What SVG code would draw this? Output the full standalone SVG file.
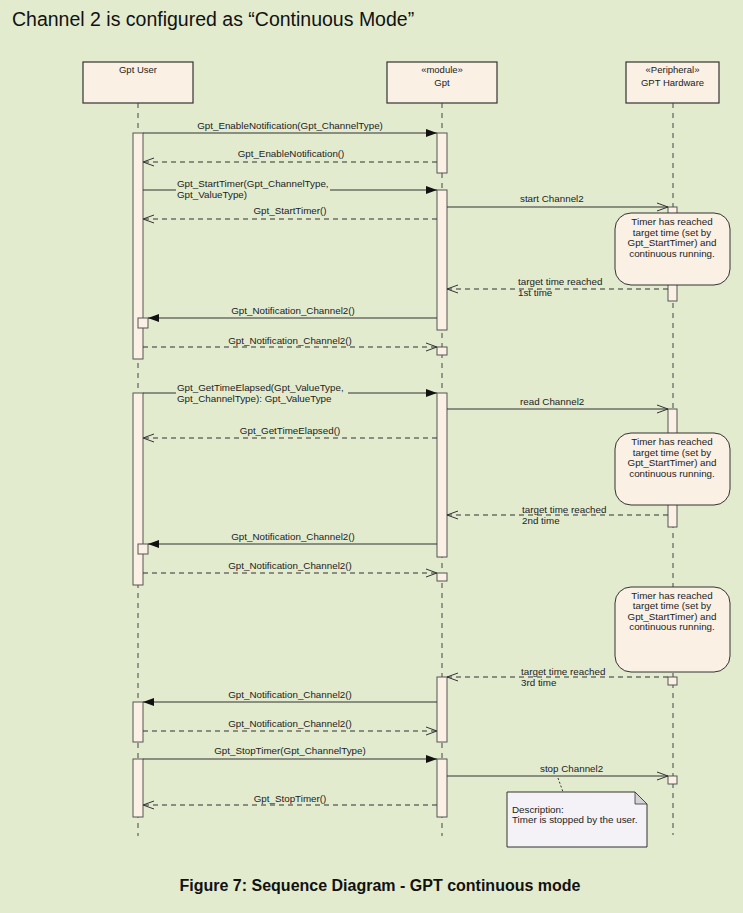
<svg xmlns="http://www.w3.org/2000/svg" width="743" height="913" viewBox="0 0 743 913">
<defs>
<marker id="filled" markerWidth="12" markerHeight="10" refX="11" refY="5" orient="auto" markerUnits="userSpaceOnUse">
<path d="M0,1 L11,5 L0,9 Z" fill="#111"/>
</marker>
<marker id="open" markerWidth="12" markerHeight="10" refX="11" refY="5" orient="auto" markerUnits="userSpaceOnUse">
<path d="M0,1 L11,5 L0,9" fill="none" stroke="#333" stroke-width="1"/>
</marker>
</defs>
<style>
.bg{fill:#e3ebcf}
.hdr{fill:#fbf0e4;stroke:#333;stroke-width:1.2}
.bar{fill:#fbf0e4;stroke:#555;stroke-width:1}
.life{stroke:#444;stroke-width:1;stroke-dasharray:5,5;fill:none}
.call{stroke:#333;stroke-width:1.1;fill:none;marker-end:url(#filled)}
.async{stroke:#333;stroke-width:1.1;fill:none;marker-end:url(#open)}
.ret{stroke:#333;stroke-width:1.1;fill:none;stroke-dasharray:5,4;marker-end:url(#open)}
.seg{stroke:#333;stroke-width:1.1;fill:none}
.note{fill:#fbf0e4;stroke:#333;stroke-width:1}
text{font-family:"Liberation Sans",Arial,sans-serif;fill:#222}
.lbl{font-size:9.8px}
.c{text-anchor:middle}
.h{font-size:9.5px;text-anchor:middle}
</style>
<rect class="bg" x="0" y="0" width="743" height="913"/>
<text x="12" y="26" style="font-size:19.5px;fill:#111">Channel 2 is configured as “Continuous Mode”</text>

<g id="gpt-user">
<rect class="hdr" x="83" y="62" width="110" height="41"/>
<text class="h" x="138" y="73">Gpt User</text>
<line class="life" x1="138" y1="103" x2="138" y2="836"/>
</g>
<g id="gpt">
<rect class="hdr" x="387" y="62" width="110" height="41"/>
<text class="h" x="442" y="73">«module»</text>
<text class="h" x="442" y="86">Gpt</text>
<line class="life" x1="442" y1="103" x2="442" y2="836"/>
</g>
<g id="gpt-hardware">
<rect class="hdr" x="626" y="62" width="93" height="41"/>
<text class="h" x="672.5" y="73">«Peripheral»</text>
<text class="h" x="672.5" y="86">GPT Hardware</text>
<line class="life" x1="673" y1="103" x2="673" y2="835"/>
</g>

<g id="activations">
<rect class="bar" x="133" y="133" width="10" height="226"/>
<rect class="bar" x="138" y="318" width="10" height="10"/>
<rect class="bar" x="133" y="393" width="10" height="192"/>
<rect class="bar" x="138" y="544" width="10" height="10"/>
<rect class="bar" x="133" y="702" width="10" height="40"/>
<rect class="bar" x="133" y="759" width="10" height="58"/>
<rect class="bar" x="437" y="133" width="10" height="40"/>
<rect class="bar" x="437" y="190" width="10" height="140"/>
<rect class="bar" x="437" y="347" width="10" height="8"/>
<rect class="bar" x="437" y="393" width="10" height="164"/>
<rect class="bar" x="437" y="573" width="10" height="8"/>
<rect class="bar" x="437" y="677" width="10" height="65"/>
<rect class="bar" x="437" y="759" width="10" height="58"/>
<rect class="bar" x="668" y="207" width="9" height="94"/>
<rect class="bar" x="668" y="409" width="9" height="118"/>
<rect class="bar" x="668" y="677" width="9" height="8"/>
<rect class="bar" x="668" y="776" width="9" height="8"/>
</g>

<g id="notes">
<g id="note1">
<rect class="note" x="615" y="213" width="115" height="72" rx="16"/>
<text class="lbl c" x="672" y="225">Timer has reached</text>
<text class="lbl c" x="672" y="235.5">target time (set by</text>
<text class="lbl c" x="672" y="246">Gpt_StartTimer) and</text>
<text class="lbl c" x="672" y="256.5">continuous running.</text>
</g>
<g id="note2">
<rect class="note" x="615" y="433" width="115" height="72" rx="16"/>
<text class="lbl c" x="672" y="445">Timer has reached</text>
<text class="lbl c" x="672" y="455.5">target time (set by</text>
<text class="lbl c" x="672" y="466">Gpt_StartTimer) and</text>
<text class="lbl c" x="672" y="476.5">continuous running.</text>
</g>
<g id="note3">
<rect class="note" x="615" y="587" width="115" height="85" rx="16"/>
<text class="lbl c" x="672" y="598.5">Timer has reached</text>
<text class="lbl c" x="672" y="609">target time (set by</text>
<text class="lbl c" x="672" y="619.5">Gpt_StartTimer) and</text>
<text class="lbl c" x="672" y="630">continuous running.</text>
</g>
<g id="note-description">
<path d="M507,792 L635,792 L647,804 L647,847 L507,847 Z" fill="#f4f2f7" stroke="#333" stroke-width="1"/>
<path d="M635,792 L635,804 L647,804 Z" fill="#d3d3d8" stroke="#333" stroke-width="0.8"/>
<text class="lbl" x="512" y="813">Description:</text>
<text class="lbl" x="512" y="823">Timer is stopped by the user.</text>
</g>
</g>

<g id="connectors">
<line class="call" x1="143" y1="133" x2="437" y2="133"/>
<text class="lbl c" x="290" y="129">Gpt_EnableNotification(Gpt_ChannelType)</text>
<line class="ret" x1="437" y1="162" x2="143" y2="162"/>
<text class="lbl c" x="291" y="157">Gpt_EnableNotification()</text>

<line class="seg" x1="143" y1="190" x2="176" y2="190"/>
<line class="call" x1="330" y1="190" x2="437" y2="190"/>
<text class="lbl" x="177" y="187">Gpt_StartTimer(Gpt_ChannelType,</text>
<text class="lbl" x="177" y="197.5">Gpt_ValueType)</text>
<line class="ret" x1="437" y1="219" x2="143" y2="219"/>
<text class="lbl c" x="290" y="214">Gpt_StartTimer()</text>

<line class="async" x1="447" y1="207" x2="668" y2="207"/>
<text class="lbl" x="520" y="202">start Channel2</text>
<line class="ret" x1="668" y1="289" x2="447" y2="289"/>
<text class="lbl" x="518" y="285">target time reached</text>
<text class="lbl" x="518" y="295.5">1st time</text>

<line class="call" x1="437" y1="318" x2="148" y2="318"/>
<text class="lbl c" x="293" y="314">Gpt_Notification_Channel2()</text>
<line class="ret" x1="143" y1="347" x2="437" y2="347"/>
<text class="lbl c" x="290" y="344">Gpt_Notification_Channel2()</text>

<line class="seg" x1="143" y1="393" x2="176" y2="393"/>
<line class="call" x1="348" y1="393" x2="437" y2="393"/>
<text class="lbl" x="177" y="391">Gpt_GetTimeElapsed(Gpt_ValueType,</text>
<text class="lbl" x="177" y="401.5">Gpt_ChannelType): Gpt_ValueType</text>
<line class="async" x1="447" y1="409" x2="668" y2="409"/>
<text class="lbl" x="520" y="405">read Channel2</text>
<line class="ret" x1="437" y1="438" x2="143" y2="438"/>
<text class="lbl c" x="290" y="434">Gpt_GetTimeElapsed()</text>

<line class="ret" x1="668" y1="515" x2="447" y2="515"/>
<text class="lbl" x="522" y="513">target time reached</text>
<text class="lbl" x="522" y="523.5">2nd time</text>
<line class="call" x1="437" y1="544" x2="148" y2="544"/>
<text class="lbl c" x="293" y="540">Gpt_Notification_Channel2()</text>
<line class="ret" x1="143" y1="573" x2="437" y2="573"/>
<text class="lbl c" x="290" y="569">Gpt_Notification_Channel2()</text>

<line class="ret" x1="668" y1="677" x2="447" y2="677"/>
<text class="lbl" x="521" y="675">target time reached</text>
<text class="lbl" x="521" y="685.5">3rd time</text>
<line class="call" x1="437" y1="702" x2="143" y2="702"/>
<text class="lbl c" x="290" y="698">Gpt_Notification_Channel2()</text>
<line class="ret" x1="143" y1="731" x2="437" y2="731"/>
<text class="lbl c" x="290" y="727">Gpt_Notification_Channel2()</text>

<line class="call" x1="143" y1="759" x2="437" y2="759"/>
<text class="lbl c" x="290" y="754">Gpt_StopTimer(Gpt_ChannelType)</text>
<line class="async" x1="447" y1="776" x2="668" y2="776"/>
<text class="lbl" x="540" y="772">stop Channel2</text>
<line class="ret" x1="437" y1="805" x2="143" y2="805"/>
<text class="lbl c" x="290" y="802">Gpt_StopTimer()</text>
<line x1="558" y1="778" x2="563" y2="792" stroke="#333" stroke-width="1" stroke-dasharray="2,2"/>
</g>

<text x="380" y="891" text-anchor="middle" style="font-size:16px;font-weight:bold;fill:#111">Figure 7: Sequence Diagram - GPT continuous mode</text>
</svg>
